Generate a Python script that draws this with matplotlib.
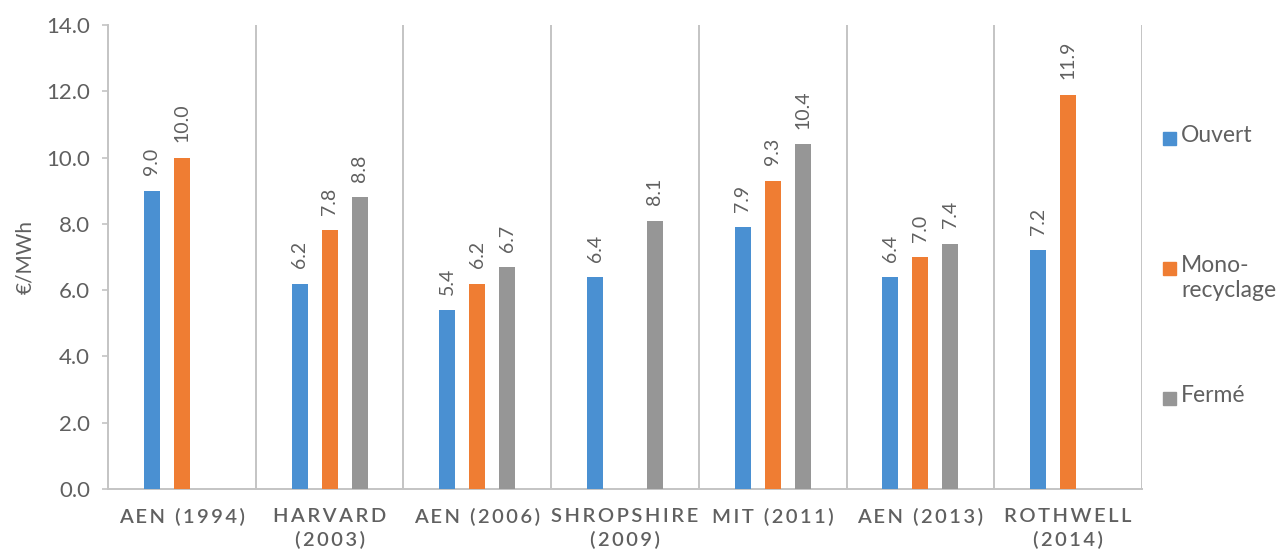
import matplotlib
matplotlib.use("Agg")
import matplotlib.pyplot as plt
from matplotlib.patches import Rectangle
import numpy as np

plt.rcParams['font.family'] = ['Lato', 'DejaVu Sans']

categories = ["AEN (1994)", "HARVARD\n(2003)", "AEN (2006)", "SHROPSHIRE\n(2009)",
              "MIT (2011)", "AEN (2013)", "ROTHWELL\n(2014)"]
series_names = ["Ouvert", "Mono-\nrecyclage", "Fermé"]
ouvert = [9.0, 6.2, 5.4, 6.4, 7.9, 6.4, 7.2]
mono_recyclage = [10.0, 7.8, 6.2, None, 9.3, 7.0, 11.9]
ferme = [None, 8.8, 6.7, 8.1, 10.4, 7.4, None]
y_ticks = [0.0, 2.0, 4.0, 6.0, 8.0, 10.0, 12.0, 14.0]
y_label = "€/MWh"

colors = ["#4a90d2", "#ef7d33", "#969696"]
text_color = "#606060"
line_color = "#c4c4c4"

W, H = 1277, 555
fig = plt.figure(figsize=(W / 100, H / 100), dpi=100)
left_px, right_px, top_px, bottom_px = 108, 1142, 25, 489
ax = fig.add_axes([left_px / W, 1 - bottom_px / H,
                   (right_px - left_px) / W, (bottom_px - top_px) / H])

n = len(categories)
centers = np.arange(n) + 0.5
offsets = [-0.203, 0.0, 0.203]
bar_w = 0.108

for j, vals in enumerate([ouvert, mono_recyclage, ferme]):
    for i, v in enumerate(vals):
        if v is None:
            continue
        x = centers[i] + offsets[j]
        ax.bar(x, v, width=bar_w, color=colors[j], zorder=3)
        ax.annotate(f"{v:.1f}", (x, v), xytext=(0, 11), textcoords="offset points",
                    rotation=90, ha="center", va="bottom", fontsize=14,
                    color=text_color)

# category separators
for k in range(1, n + 1):
    ax.axvline(k, color=line_color, lw=1.4, zorder=1)

ax.set_xlim(0, n)
ax.set_ylim(0, 14)
ax.set_yticks(y_ticks)
ax.set_yticklabels([f"{t:.1f}" for t in y_ticks])
ax.tick_params(axis="y", length=4, width=1.2, color=line_color, pad=9,
               labelsize=16, labelcolor=text_color)


def spaced(s):
    return "\n".join("\u2009".join(line) for line in s.split("\n"))


ax.set_xticks(centers)
ax.set_xticklabels([spaced(c) for c in categories], fontsize=14.5,
                   color=text_color, linespacing=1.35, fontweight="semibold")
ax.tick_params(axis="x", length=0, pad=14)

for side in ["top", "right"]:
    ax.spines[side].set_visible(False)
for side in ["left", "bottom"]:
    ax.spines[side].set_color(line_color)
    ax.spines[side].set_linewidth(1.4)

ax.set_ylabel(y_label, fontsize=15, color=text_color, labelpad=8)

# legend drawn at the right of the plot area
legend_rows_px = [138, 268, 398]
sq = 13
for j, name in enumerate(series_names):
    yc = legend_rows_px[j]
    fig.patches.append(Rectangle((1163 / W, 1 - (yc + sq / 2) / H), sq / W, sq / H,
                                 transform=fig.transFigure, color=colors[j]))
    fig.text(1181 / W, 1 - (yc - 13) / H, name, fontsize=16.5, color=text_color,
             va="top", ha="left", linespacing=1.25)

fig.savefig("out.png", dpi=100)
